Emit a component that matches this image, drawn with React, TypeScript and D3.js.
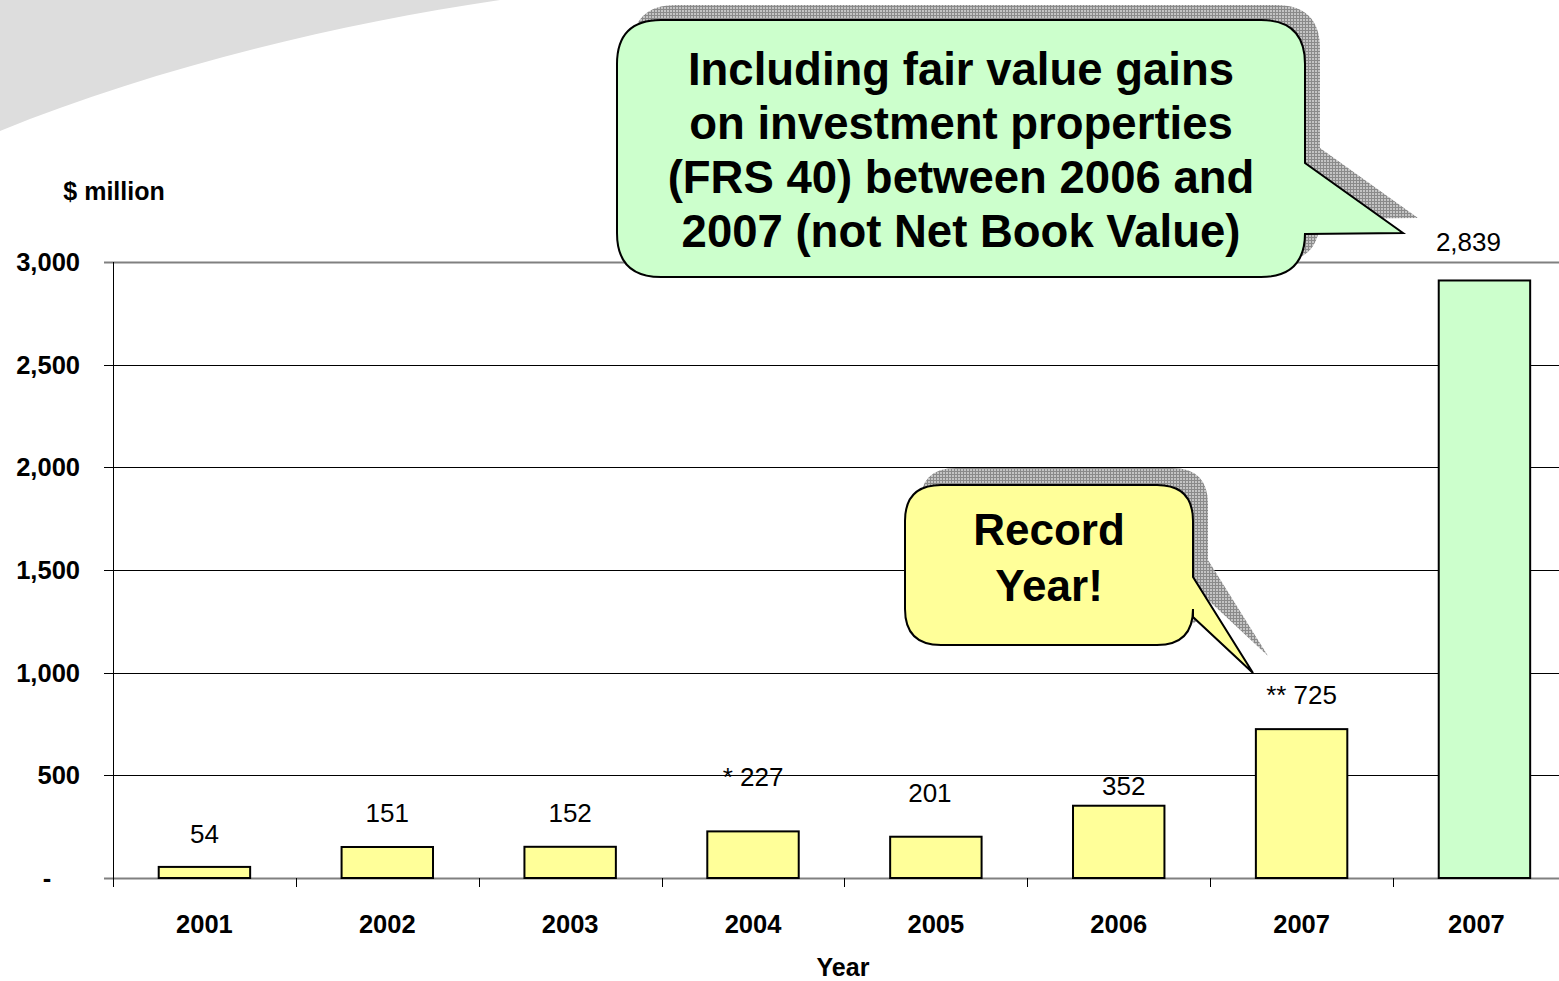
import React from "react";
import * as d3 from "d3";

// values ($ million)
const years = ["2001", "2002", "2003", "2004", "2005", "2006", "2007", "2007"];
const barValues = [54, 151, 152, 227, 201, 352, 725, 2910];
const valueLabels = ["54", "151", "152", "* 227", "201", "352", "** 725", "2,839"];
const highlight = [false, false, false, false, false, false, false, true];
const yTicks = [0, 500, 1000, 1500, 2000, 2500, 3000];
const bigNote = [
  "Including fair value gains",
  "on investment properties",
  "(FRS 40) between 2006 and",
  "2007 (not Net Book Value)",
];
const smallNote = ["Record", "Year!"];

const W = 1559;
const H = 981;
const FONT = "'Liberation Sans', Arial, sans-serif";

// label lifts above bar tops, as placed in the original slide
const labelLift = [24, 25, 25, 45, 35, 11, 25, 29];
const labelDx = [0, 0, 0, 0, -6, 5, 0, -16];
const yearDx = [0, 0, 0, 0, 0, 0, 0, -8];

function calloutPath(
  x0: number, y0: number, x1: number, y1: number, r: number,
  t1: number, tipX: number, tipY: number, t2: number
) {
  const p = d3.path();
  p.moveTo(x0 + r, y0);
  p.lineTo(x1 - r, y0);
  p.quadraticCurveTo(x1, y0, x1, y0 + r);
  p.lineTo(x1, t1);
  p.lineTo(tipX, tipY);
  p.lineTo(x1, t2);
  p.lineTo(x1, y1 - r);
  p.quadraticCurveTo(x1, y1, x1 - r, y1);
  p.lineTo(x0 + r, y1);
  p.quadraticCurveTo(x0, y1, x0, y1 - r);
  p.lineTo(x0, y0 + r);
  p.quadraticCurveTo(x0, y0, x0 + r, y0);
  p.closePath();
  return p.toString();
}

export default function App() {
  const left = 113;
  const x = d3
    .scaleBand<number>()
    .domain(years.map((_, i) => i))
    .range([left, left + 182.86 * 8])
    .paddingInner(0.5)
    .paddingOuter(0.25);
  const bandStep = x.step();
  const y = d3.scaleLinear().domain([0, 3000]).range([878, 262]);
  const fmt = d3.format(",");

  const swoosh = "M0,0 L500,0 C330,25 150,70 0,131 Z";

  const big = calloutPath(617, 20, 1305, 277, 44, 163, 1403, 233, 234);
  const bigShadow = calloutPath(632, 5, 1320, 262, 44, 148, 1418, 218, 219);
  const small = calloutPath(905, 485, 1193, 645, 36, 577, 1253, 673, 617);
  const smallShadow = calloutPath(920, 468, 1208, 628, 36, 560, 1268, 656, 600);

  return (
    <svg
      width={W}
      height={H}
      style={{ position: "absolute", left: 0, top: 0, display: "block", background: "#fff" }}
      fontFamily={FONT}
    >
      <defs>
        <pattern id="mesh" width={3} height={3} patternUnits="userSpaceOnUse">
          <rect width={3} height={3} fill="#c4c4c4" />
          <path d="M0,0.5 H3 M0.5,0 V3" stroke="#8a8a8a" strokeWidth={1} />
        </pattern>
      </defs>

      <path d={swoosh} fill="#dddddd" />

      {/* gridlines */}
      {yTicks.map((t) => (
        <line
          key={t}
          x1={104}
          x2={W}
          y1={Math.round(y(t)) + 0.5}
          y2={Math.round(y(t)) + 0.5}
          stroke={t === 0 || t === 3000 ? "#808080" : "#000"}
          strokeWidth={t === 0 || t === 3000 ? 2 : 1}
        />
      ))}
      {/* y axis */}
      <line x1={left + 0.5} x2={left + 0.5} y1={y(3000)} y2={887} stroke="#000" />
      {d3.range(1, 9).map((i) => (
        <line
          key={i}
          x1={Math.round(left + i * bandStep) + 0.5}
          x2={Math.round(left + i * bandStep) + 0.5}
          y1={878}
          y2={887}
          stroke="#000"
        />
      ))}
      {yTicks.map((t) => (
        <text
          key={t}
          x={t === 0 ? 47 : 80}
          y={y(t) + 9}
          textAnchor={t === 0 ? "middle" : "end"}
          fontSize={25.5}
          fontWeight="bold"
        >
          {t === 0 ? "-" : fmt(t)}
        </text>
      ))}
      <text x={114} y={200} textAnchor="middle" fontSize={25} fontWeight="bold">
        $ million
      </text>

      {/* bars */}
      {barValues.map((v, i) => (
        <rect
          key={i}
          x={x(i)!}
          y={y(v)}
          width={x.bandwidth()}
          height={y(0) - y(v)}
          fill={highlight[i] ? "#ccffcc" : "#ffff99"}
          stroke="#000"
          strokeWidth={2}
        />
      ))}
      {valueLabels.map((l, i) => (
        <text
          key={i}
          x={x(i)! + x.bandwidth() / 2 + labelDx[i]}
          y={y(barValues[i]) - labelLift[i]}
          textAnchor="middle"
          fontSize={26}
        >
          {l}
        </text>
      ))}
      {years.map((yr, i) => (
        <text
          key={i}
          x={x(i)! + x.bandwidth() / 2 + yearDx[i]}
          y={933}
          textAnchor="middle"
          fontSize={25.5}
          fontWeight="bold"
        >
          {yr}
        </text>
      ))}
      <text x={843} y={976} textAnchor="middle" fontSize={25} fontWeight="bold">
        Year
      </text>

      {/* callouts */}
      <path d={bigShadow} fill="url(#mesh)" />
      <path d={big} fill="#ccffcc" stroke="#000" strokeWidth={2} />
      {bigNote.map((s, i) => (
        <text
          key={i}
          x={961}
          y={85 + i * 54}
          textAnchor="middle"
          fontSize={45.5}
          fontWeight="bold"
        >
          {s}
        </text>
      ))}
      <path d={smallShadow} fill="url(#mesh)" />
      <path d={small} fill="#ffff99" stroke="#000" strokeWidth={2} />
      {smallNote.map((s, i) => (
        <text
          key={i}
          x={1049}
          y={545 + i * 56}
          textAnchor="middle"
          fontSize={44}
          fontWeight="bold"
        >
          {s}
        </text>
      ))}
    </svg>
  );
}
